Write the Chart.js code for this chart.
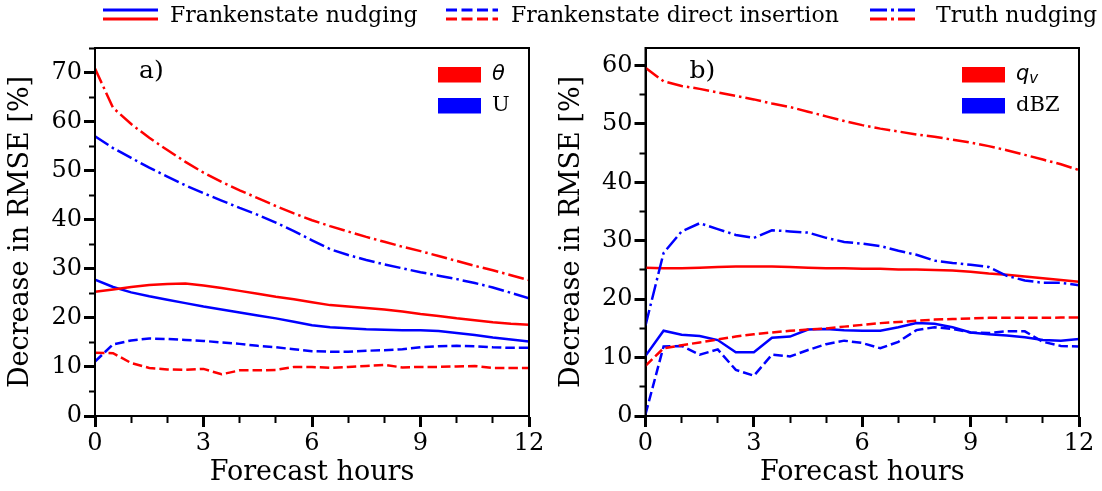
<!DOCTYPE html>
<html>
<head>
<meta charset="utf-8">
<script src="https://cdn.jsdelivr.net/npm/chart.js@4.4.1/dist/chart.umd.min.js"></script>
<style>
  body { margin: 0; background: #fff; }
  #wrap { position: relative; width: 1102px; height: 491px; overflow: hidden; background: #fff; }
  canvas { position: absolute; top: 0; }
  .lg { position: absolute; top: 4px; font: 22px "DejaVu Serif"; line-height: 1; color: #000; white-space: nowrap; }
  .smp { position: absolute; top: 0; }
</style>
</head>
<body>
<div id="wrap">
  <canvas id="panelA" width="551" height="491" style="left:0"></canvas>
  <canvas id="panelB" width="551" height="491" style="left:551px"></canvas>

  <svg class="smp" style="left:103px" width="55" height="30">
    <line x1="0" y1="10" x2="55" y2="10" stroke="#0000ff" stroke-width="3"/>
    <line x1="0" y1="19" x2="55" y2="19" stroke="#ff0000" stroke-width="3"/>
  </svg>
  <div class="lg" style="left:170px">Frankenstate nudging</div>

  <svg class="smp" style="left:446px" width="52" height="30">
    <line x1="0" y1="10" x2="52" y2="10" stroke="#0000ff" stroke-width="3" stroke-dasharray="11 4.5"/>
    <line x1="0" y1="19" x2="52" y2="19" stroke="#ff0000" stroke-width="3" stroke-dasharray="11 4.5"/>
  </svg>
  <div class="lg" style="left:511px">Frankenstate direct insertion</div>

  <svg class="smp" style="left:870px" width="48" height="30">
    <line x1="0" y1="10" x2="48" y2="10" stroke="#0000ff" stroke-width="3" stroke-dasharray="17 4 3 4"/>
    <line x1="0" y1="19" x2="48" y2="19" stroke="#ff0000" stroke-width="3" stroke-dasharray="17 4 3 4"/>
  </svg>
  <div class="lg" style="left:936px">Truth nudging</div>
</div>

<script>
// forecast hours (x axis)
const hours = [0, 0.5, 1, 1.5, 2, 2.5, 3, 3.5, 4, 4.5, 5, 5.5, 6, 6.5, 7, 7.5, 8, 8.5, 9, 9.5, 10, 10.5, 11, 11.5, 12];

// panel a) theta and U
const thetaNudging   = [25.3, 25.8, 26.3, 26.7, 26.9, 27.0, 26.6, 26.1, 25.5, 24.9, 24.3, 23.8, 23.2, 22.6, 22.3, 22.0, 21.7, 21.3, 20.8, 20.4, 19.9, 19.5, 19.1, 18.8, 18.6];
const thetaInsertion = [12.9, 12.8, 10.8, 9.8, 9.5, 9.4, 9.6, 8.5, 9.3, 9.3, 9.4, 10.0, 10.0, 9.8, 10.0, 10.2, 10.4, 9.9, 10.0, 10.0, 10.1, 10.2, 9.8, 9.8, 9.8];
const thetaTruth     = [70.8, 62.8, 59.5, 56.7, 54.2, 51.8, 49.6, 47.7, 46.0, 44.4, 42.8, 41.3, 39.9, 38.7, 37.6, 36.5, 35.5, 34.5, 33.6, 32.6, 31.6, 30.6, 29.7, 28.7, 27.7];
const uNudging       = [27.8, 26.3, 25.2, 24.4, 23.7, 23.0, 22.3, 21.7, 21.1, 20.5, 19.9, 19.2, 18.5, 18.1, 17.9, 17.7, 17.6, 17.5, 17.5, 17.3, 16.9, 16.5, 16.0, 15.6, 15.2];
const uInsertion     = [11.1, 14.6, 15.4, 15.8, 15.7, 15.5, 15.3, 15.0, 14.7, 14.3, 14.0, 13.6, 13.2, 13.1, 13.1, 13.3, 13.4, 13.6, 14.0, 14.2, 14.3, 14.2, 14.0, 13.9, 13.9];
const uTruth         = [57.0, 54.6, 52.6, 50.6, 48.8, 47.0, 45.4, 43.9, 42.4, 41.0, 39.4, 37.7, 35.8, 34.0, 32.8, 31.8, 30.9, 30.1, 29.3, 28.6, 27.9, 27.1, 26.2, 25.1, 24.0];

// panel b) qv and dBZ
const qvNudging      = [25.4, 25.3, 25.3, 25.4, 25.5, 25.6, 25.6, 25.6, 25.5, 25.4, 25.3, 25.3, 25.2, 25.2, 25.1, 25.1, 25.0, 24.9, 24.7, 24.4, 24.2, 23.9, 23.6, 23.3, 23.0];
const qvInsertion    = [8.6, 11.6, 12.1, 12.6, 13.1, 13.6, 14.0, 14.3, 14.6, 14.8, 15.0, 15.3, 15.6, 15.9, 16.1, 16.3, 16.5, 16.6, 16.7, 16.8, 16.8, 16.8, 16.8, 16.85, 16.85];
const qvTruth        = [59.6, 57.3, 56.5, 56.0, 55.4, 54.8, 54.2, 53.5, 52.9, 52.1, 51.3, 50.5, 49.8, 49.2, 48.7, 48.2, 47.8, 47.3, 46.8, 46.2, 45.5, 44.7, 43.9, 43.1, 42.1];
const dbzNudging     = [10.3, 14.6, 13.9, 13.7, 13.0, 10.9, 10.9, 13.4, 13.6, 14.8, 14.9, 14.7, 14.6, 14.6, 15.2, 15.9, 15.8, 15.2, 14.3, 14.0, 13.8, 13.5, 13.0, 12.9, 13.2];
const dbzInsertion   = [0.3, 11.9, 12.0, 10.5, 11.4, 7.9, 6.9, 10.5, 10.2, 11.3, 12.3, 12.9, 12.5, 11.6, 12.7, 14.7, 15.2, 14.9, 14.3, 14.2, 14.5, 14.5, 12.7, 12.0, 11.9];
const dbzTruth       = [15.5, 27.9, 31.6, 33.0, 32.0, 31.0, 30.5, 31.8, 31.6, 31.4, 30.5, 29.8, 29.5, 29.1, 28.3, 27.6, 26.6, 26.2, 25.9, 25.5, 24.0, 23.2, 22.8, 22.8, 22.4];

const xTicksMajor = [0, 3, 6, 9, 12];
const yTicksMajor = [0, 10, 20, 30, 40, 50, 60, 70];

const RED = '#ff0000';
const BLUE = '#0000ff';
const DASHED = [9.5, 4];
const DASHDOT = [16, 4, 2.5, 4];

// frame, panel letter and the little colour legend inside the axes
const panelDecor = {
    id: 'panelDecor',
    afterDraw(chart, args, opts) {
        const {ctx, chartArea: a} = chart;
        ctx.save();
        ctx.strokeStyle = '#000';
        ctx.lineWidth = 2;
        ctx.strokeRect(a.left, a.top, a.right - a.left, a.bottom - a.top);

        ctx.fillStyle = '#000';
        ctx.font = '25px "DejaVu Serif"';
        ctx.textBaseline = 'alphabetic';
        ctx.fillText(opts.label, a.left + 44, a.top + 30);

        opts.items.forEach((it, i) => {
            const y = a.top + 19 + i * 31;
            ctx.fillStyle = it.color;
            ctx.fillRect(a.right - opts.boxOffset, y, 43, 15.5);
            ctx.fillStyle = '#000';
            ctx.textBaseline = 'middle';
            let x = a.right - opts.boxOffset + 54;
            it.parts.forEach(p => {
                ctx.font = p.font;
                ctx.fillText(p.t, x, y + 8 + (p.dy || 0));
                x += ctx.measureText(p.t).width;
            });
        });
        ctx.restore();
    }
};

function series(vals, color, dash) {
    return {
        data: hours.map((h, i) => ({x: h, y: vals[i]})),
        borderColor: color,
        borderWidth: 2.5,
        borderDash: dash,
        pointRadius: 0,
        tension: 0,
        fill: false
    };
}

function isMajor(list, v) {
    return list.some(m => Math.abs(m - v) < 1e-6);
}

function makePanel(id, yMax, datasets, yWidth, rightPad, decor) {
    const tickFont = {family: 'DejaVu Serif', size: 24};
    const titleFont = {family: 'DejaVu Serif', size: 27};
    return new Chart(document.getElementById(id), {
        type: 'line',
        data: {datasets: datasets},
        options: {
            responsive: false,
            animation: false,
            devicePixelRatio: 1,
            layout: {padding: {top: 48, right: rightPad, left: 0, bottom: 0}},
            plugins: {
                legend: {display: false},
                tooltip: {enabled: false},
                panelDecor: decor
            },
            scales: {
                x: {
                    type: 'linear',
                    min: 0,
                    max: 12,
                    afterFit: (s) => { s.height = 75; },
                    border: {display: true, color: '#000', width: 2},
                    grid: {
                        drawOnChartArea: false,
                        tickLength: 11,
                        tickColor: '#000',
                        tickWidth: (c) => isMajor(xTicksMajor, c.tick.value) ? 3 : 2,
                        tickBorderDash: (c) => isMajor(xTicksMajor, c.tick.value) ? [] : [6, 100]
                    },
                    ticks: {
                        stepSize: 1,
                        autoSkip: false,
                        maxRotation: 0,
                        padding: 2,
                        color: '#000',
                        font: tickFont,
                        callback: (v) => isMajor(xTicksMajor, v) ? String(v) : ''
                    },
                    title: {
                        display: true,
                        text: 'Forecast hours',
                        color: '#000',
                        font: titleFont,
                        padding: {top: 0, bottom: 2}
                    }
                },
                y: {
                    type: 'linear',
                    min: 0,
                    max: yMax,
                    afterFit: (s) => { s.width = yWidth; },
                    border: {display: true, color: '#000', width: 2},
                    grid: {
                        drawOnChartArea: false,
                        tickLength: 11,
                        tickColor: '#000',
                        tickWidth: (c) => isMajor(yTicksMajor, c.tick.value) ? 3 : 2,
                        tickBorderDash: (c) => isMajor(yTicksMajor, c.tick.value) ? [] : [0, 5, 6, 100]
                    },
                    ticks: {
                        stepSize: 5,
                        includeBounds: false,
                        autoSkip: false,
                        padding: 2,
                        color: '#000',
                        font: tickFont,
                        callback: (v) => isMajor(yTicksMajor, v) ? String(v) : ''
                    },
                    title: {
                        display: true,
                        text: 'Decrease in RMSE [%]',
                        color: '#000',
                        font: titleFont,
                        padding: {top: 5, bottom: 0}
                    }
                }
            }
        },
        plugins: [panelDecor]
    });
}

const mathFont = 'italic 21px "DejaVu Sans"';

makePanel('panelA', 75, [
    series(thetaTruth, RED, DASHDOT),
    series(uTruth, BLUE, DASHDOT),
    series(thetaNudging, RED, []),
    series(uNudging, BLUE, []),
    series(uInsertion, BLUE, DASHED),
    series(thetaInsertion, RED, DASHED)
], 95, 22, {
    label: 'a)',
    boxOffset: 91,
    items: [
        {color: RED, parts: [{t: '\u03b8', font: mathFont}]},
        {color: BLUE, parts: [{t: 'U', font: '21px "DejaVu Serif"'}]}
    ]
});

makePanel('panelB', 63, [
    series(qvTruth, RED, DASHDOT),
    series(dbzTruth, BLUE, DASHDOT),
    series(qvNudging, RED, []),
    series(qvInsertion, RED, DASHED),
    series(dbzInsertion, BLUE, DASHED),
    series(dbzNudging, BLUE, [])
], 94.5, 23, {
    label: 'b)',
    boxOffset: 117,
    items: [
        {color: RED, parts: [{t: 'q', font: mathFont}, {t: 'v', font: 'italic 15px "DejaVu Sans"', dy: 4}]},
        {color: BLUE, parts: [{t: 'dBZ', font: '21px "DejaVu Serif"'}]}
    ]
});
</script>
</body>
</html>
